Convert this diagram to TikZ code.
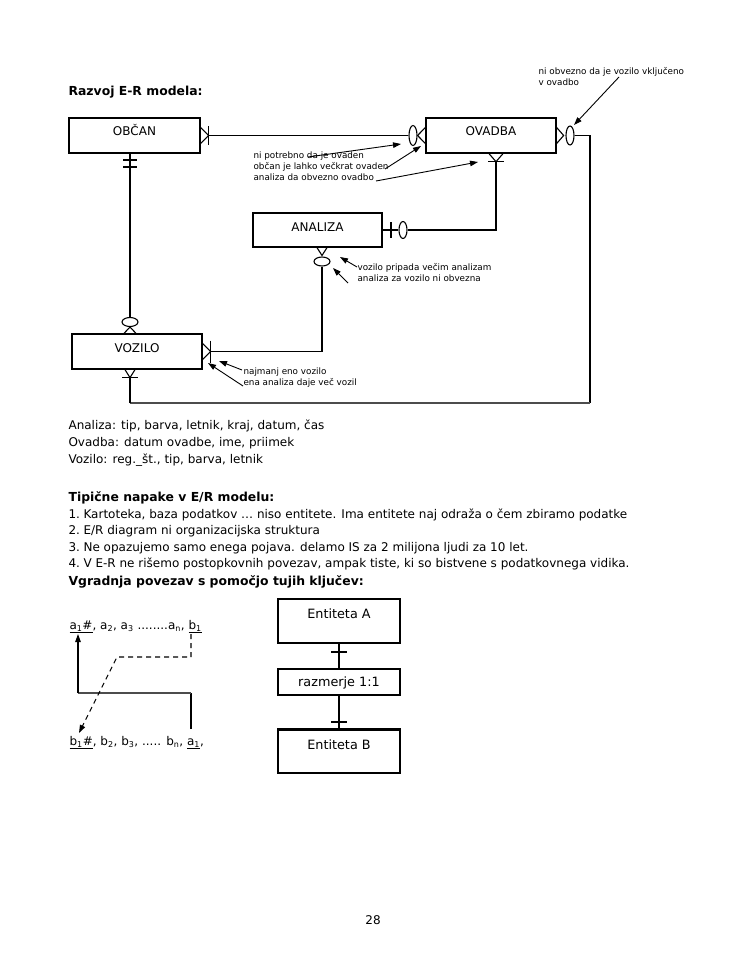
\documentclass[tikz,border=0pt]{standalone}
\usepackage{fontspec}
\setmainfont{DejaVu Sans}
\usetikzlibrary{arrows.meta,calc,shapes.geometric}
\begin{document}
\begin{tikzpicture}[x=1pt,y=-1pt, line width=1.1pt,
  ent/.style={draw, line width=1.3pt, inner sep=0pt, text height=8.8pt, font=\fontsize{12}{14}\selectfont},
  oval/.style={draw, ellipse, inner sep=0pt, line width=1.1pt},
  note/.style={font=\fontsize{8.8}{10.5}\selectfont, anchor=west, inner sep=0pt, text height=6.6pt, text depth=2pt},
  body/.style={font=\fontsize{12}{14}\selectfont, anchor=west, inner sep=0pt, text height=9pt, text depth=2.6pt},
  head/.style={font=\bfseries\fontsize{12.4}{14}\selectfont, anchor=west, inner sep=0pt, text height=9.2pt, text depth=2.7pt},
  ptr/.style={-{Triangle[length=8pt,width=5.5pt]}, line width=0.9pt},
  heavy/.style={line width=2pt, black!70},
  dashline/.style={dash pattern=on 5pt off 4pt, line width=1.1pt}
]
\useasboundingbox (0,0) rectangle (750,971);
\fill[white] (0,0) rectangle (750,971);

% ---------- title ----------
\node[head] (title) at (68,92) {Razvoj E-R modela:};

% ---------- entities ----------
\node[ent, minimum width=131pt, minimum height=35pt, text depth=9pt] (obcan) at (134.5,135.5) {OBČAN};
\node[ent, minimum width=130pt, minimum height=35pt, text depth=9pt] (ovadba) at (491,135.5) {OVADBA};
\node[ent, minimum width=129pt, minimum height=34pt, text depth=5pt] (analiza) at (317.5,230) {ANALIZA};
\node[ent, minimum width=130pt, minimum height=35pt, text depth=6pt] (vozilo) at (137,351.5) {VOZILO};

% ---------- OBČAN -- OVADBA ----------
\draw ($(obcan.east)+(0,-8)$) -- ($(obcan.east)+(8,0)$) -- ($(obcan.east)+(0,8)$);
\draw ($(obcan.east)+(8,-9)$) -- ($(obcan.east)+(8,9)$);
\node[oval, minimum width=8pt, minimum height=20pt] (e1) at (413,135.5) {};
\draw ($(obcan.east)+(8,0)$) -- (e1.west);
\draw ($(ovadba.west)+(0,-8)$) -- (e1.east) -- ($(ovadba.west)+(0,8)$);

% ---------- OVADBA -- VOZILO (loop) ----------
\draw ($(ovadba.east)+(0,-8)$) -- ($(ovadba.east)+(7,0)$) -- ($(ovadba.east)+(0,8)$);
\node[oval, minimum width=8pt, minimum height=19pt] (e2) at (570,135.5) {};
\coordinate (loopR) at (590,403);
\coordinate (vbot) at ($(130,0 |- vozilo.south)+(0,8)$);
\draw (e2.east) -| (loopR);
\draw[heavy] (loopR) -- (vbot |- loopR);
\draw (vbot |- loopR) -- (vbot);
\draw ($(130,0 |- vozilo.south)+(-5,0)$) -- (vbot) -- ($(130,0 |- vozilo.south)+(5,0)$);
\draw ($(vbot)+(-8,0)$) -- ($(vbot)+(8,0)$);

% ---------- OBČAN -- VOZILO ----------
\node[oval, minimum width=16pt, minimum height=9pt] (e3) at (130,322) {};
\draw (130,0 |- obcan.south) -- (e3.north);
\draw (123,160) -- (137,160);
\draw (123,167) -- (137,167);
\draw ($(130,0 |- vozilo.north)+(-6,0)$) -- (e3.south) -- ($(130,0 |- vozilo.north)+(6,0)$);

% ---------- OVADBA -- ANALIZA ----------
\coordinate (ovb) at ($(496,0 |- ovadba.south)+(0,8)$);
\draw ($(496,0 |- ovadba.south)+(-7,0)$) -- (ovb) -- ($(496,0 |- ovadba.south)+(7,0)$);
\draw ($(ovb)+(-8,0)$) -- ($(ovb)+(8,0)$);
\node[oval, minimum width=8pt, minimum height=17pt] (e4) at (403,230) {};
\draw (ovb) |- (e4.east);
\draw (analiza.east) -- (e4.west);
\draw (391,222) -- (391,238);

% ---------- ANALIZA -- VOZILO ----------
\node[oval, minimum width=16pt, minimum height=9pt] (e5) at (322,261.5) {};
\draw ($(322,0 |- analiza.south)+(-5,0)$) -- ($(e5.north)+(0,-1)$) -- ($(322,0 |- analiza.south)+(5,0)$);
\coordinate (vr) at ($(vozilo.east)+(8,0)$);
\draw (e5.south) |- (vr);
\draw ($(vozilo.east)+(0,-8)$) -- (vr) -- ($(vozilo.east)+(0,8)$);
\draw ($(vr)+(0,-11)$) -- ($(vr)+(0,11)$);

% ---------- annotations ----------
\node[note] (n1) at (253,156) {ni potrebno da je ovaden};
\node[note] (n2) at (253,167) {občan je lahko večkrat ovaden};
\node[note] (n3) at (253,178) {analiza da obvezno ovadbo};
\draw[ptr] (308,157) -- (401,144);
\draw[ptr] (385,169) -- (421,146);
\draw[ptr] (376,181) -- (478,162);

\node[note] (n4) at (538,72) {ni obvezno da je vozilo vključeno};
\node[note] (n5) at (538,83) {v ovadbo};
\draw[ptr] (619,77) -- (574,125);

\node[note] (n6) at (357,268) {vozilo pripada večim analizam};
\node[note] (n7) at (357,279) {analiza za vozilo ni obvezna};
\draw[ptr] (357,267) -- (340,257);
\draw[ptr] (348,283) -- (333,268);

\node[note] (n8) at (243,372) {najmanj eno vozilo};
\node[note] (n9) at (243,383) {ena analiza daje več vozil};
\draw[ptr] (242,370) -- (219,361);
\draw[ptr] (243,386) -- (208,363);

% ---------- text block ----------
\node[body] (t1) at (68,426) {Analiza: tip, barva, letnik, kraj, datum, čas};
\node[body] (t2) at (68,443) {Ovadba: datum ovadbe, ime, priimek};
\node[body] (t3) at (68,460) {Vozilo: reg.\_št., tip, barva, letnik};
\node[head] (t4) at (68,498) {Tipične napake v E/R modelu:};
\node[body] (i1) at (68,515) {1.};
\node[body] (i1t) at (83,515) {Kartoteka, baza podatkov … niso entitete. Ima entitete naj odraža o čem zbiramo podatke};
\node[body] (i2) at (68,531) {2.};
\node[body] (i2t) at (83,531) {E/R diagram ni organizacijska struktura};
\node[body] (i3) at (68,548) {3.};
\node[body] (i3t) at (83,548) {Ne opazujemo samo enega pojava. delamo IS za 2 milijona ljudi za 10 let.};
\node[body] (i4) at (68,564) {4.};
\node[body] (i4t) at (83,564) {V E-R ne rišemo postopkovnih povezav, ampak tiste, ki so bistvene s podatkovnega vidika.};
\node[head] (t5) at (68,582) {Vgradnja povezav s pomočjo tujih ključev:};

% ---------- foreign keys sketch ----------
\node[body] (ka) at (69,626) {\underline{a\textsubscript{1}\#}, a\textsubscript{2}, a\textsubscript{3} ........a\textsubscript{n}, \underline{b\textsubscript{1}}};
\node[body] (kb) at (69,742) {\underline{b\textsubscript{1}\#}, b\textsubscript{2}, b\textsubscript{3}, ..... b\textsubscript{n}, \underline{a\textsubscript{1}},};
\coordinate (sa) at (191,729);
\coordinate (sb) at (191,693);
\coordinate (sc) at (78,693);
\coordinate (sd) at (78,634);
\draw (sa) -- (sb);
\draw[heavy] (sb) -- (sc);
\draw[ptr, line width=1.1pt] (sc) -- (sd);
\coordinate (da) at (191,634);
\coordinate (db) at (191,657);
\coordinate (dc) at (117,657);
\coordinate (dd) at (79,733);
\draw[dashline, -{Triangle[length=8pt,width=5.5pt]}] (da) -- (db) -- (dc) -- (dd);

% ---------- 1:1 ----------
\node[ent, minimum width=122pt, minimum height=44pt, text depth=13pt, font=\fontsize{12.8}{15}\selectfont] (ea) at (339,621) {Entiteta A};
\node[ent, minimum width=122pt, minimum height=26pt, text depth=0pt, font=\fontsize{12.8}{15}\selectfont] (rel) at (339,682) {razmerje 1:1};
\node[ent, minimum width=122pt, minimum height=43pt, text depth=13pt, font=\fontsize{12.8}{15}\selectfont] (eb) at (339,751.5) {Entiteta B};
\draw[line width=2pt] (eb.north west) -- (eb.north east);
\draw (ea.south) -- (rel.north);
\draw (331,652) -- (347,652);
\draw (rel.south) -- (eb.north);
\draw (331,722) -- (347,722);

% ---------- page number ----------
\node[font=\fontsize{12}{14}\selectfont, inner sep=0pt] (page) at (373,920) {28};
\end{tikzpicture}
\end{document}
